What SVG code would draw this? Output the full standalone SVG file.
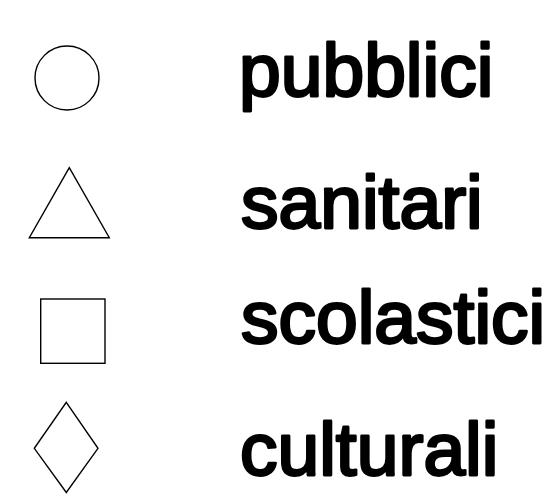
<svg xmlns="http://www.w3.org/2000/svg" width="558" height="494" viewBox="0 0 558 494">
<style>
.shape{fill:none;stroke:#000;stroke-width:1.4}
.label{font-family:"Liberation Sans",Arial,sans-serif;font-size:75px;fill:#000;stroke:#000;stroke-width:2.8;stroke-linejoin:round}
</style>
<rect width="558" height="494" fill="#fff"/>
<g id="pubblici">
<circle class="shape" cx="67" cy="78" r="32"/>
<text class="label" x="239" y="96">pubblici</text>
</g>
<g id="sanitari">
<polygon class="shape" points="69.3,167.7 29.3,237.7 109.3,237.7"/>
<text class="label" x="241" y="227.5">sanitari</text>
</g>
<g id="scolastici">
<rect class="shape" x="40.7" y="299" width="64.3" height="64.3"/>
<text class="label" x="241" y="342.5">scolastici</text>
</g>
<g id="culturali">
<polygon class="shape" points="66.3,402.3 98,448.3 66.3,492.5 34.3,448.3"/>
<text class="label" x="240" y="474.5">culturali</text>
</g>
</svg>
